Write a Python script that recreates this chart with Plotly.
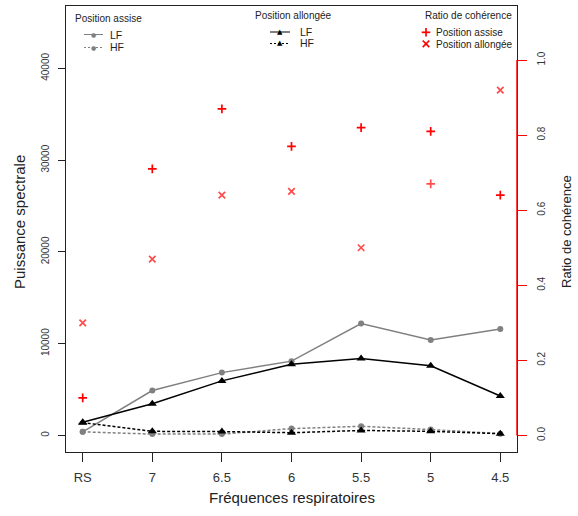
import plotly.graph_objects as go

# ---- data ----
categories = ["RS", "7", "6.5", "6", "5.5", "5", "4.5"]
lf_assise = [400, 4900, 6850, 8100, 12200, 10400, 11600]
hf_assise = [400, 150, 150, 750, 1000, 650, 200]
lf_allongee = [1450, 3450, 5950, 7750, 8400, 7600, 4300]
hf_allongee = [1400, 450, 430, 300, 550, 450, 200]
coh_assise = [0.10, 0.71, 0.87, 0.77, 0.82, 0.81, 0.64]
coh_allongee = [0.30, 0.47, 0.64, 0.65, 0.50, 0.67, 0.92]
left_ticks = [0, 10000, 20000, 30000, 40000]
right_ticks = [0.0, 0.2, 0.4, 0.6, 0.8, 1.0]

xpos = list(range(1, len(categories) + 1))
FONT = "Liberation Sans, Arial, sans-serif"
GRAY = "#808080"
RED = "#ff0000"
DOT = "3px,2px"

# symbols for the allongée coherence markers (the reference shows a '+' at 5)
allongee_symbols = ["x-thin", "x-thin", "x-thin", "x-thin", "x-thin", "cross-thin", "x-thin"]
allongee_sizes = [6.5, 6.5, 6.5, 6.5, 6.5, 6.2, 6.5]

# plot-area geometry (pixels) used to place the hand-made legends
W, H = 578, 516
PL, PR, PT, PB = 66, 517, 6, 452


def px(x):
    return (x - PL) / (PR - PL)


def py(y):
    return (PB - y) / (PB - PT)


fig = go.Figure()

fig.add_trace(go.Scatter(x=xpos, y=lf_assise, mode="lines+markers", name="LF assise",
                         line=dict(color=GRAY, width=1.5),
                         marker=dict(symbol="circle", size=6, color=GRAY)))
fig.add_trace(go.Scatter(x=xpos, y=hf_assise, mode="lines+markers", name="HF assise",
                         line=dict(color=GRAY, width=1.5, dash=DOT),
                         marker=dict(symbol="circle", size=6, color=GRAY)))
fig.add_trace(go.Scatter(x=xpos, y=lf_allongee, mode="lines+markers", name="LF allongée",
                         line=dict(color="black", width=1.5),
                         marker=dict(symbol="triangle-up", size=8, color="black")))
fig.add_trace(go.Scatter(x=xpos, y=hf_allongee, mode="lines+markers", name="HF allongée",
                         line=dict(color="black", width=1.5, dash=DOT),
                         marker=dict(symbol="triangle-up", size=8, color="black")))
fig.add_trace(go.Scatter(x=xpos, y=coh_assise, mode="markers", name="Position assise",
                         yaxis="y2",
                         marker=dict(symbol="cross-thin", size=6.2, color=RED,
                                     line=dict(color=RED, width=1.7))))
fig.add_trace(go.Scatter(x=xpos, y=coh_allongee, mode="markers", name="Position allongée",
                         yaxis="y2",
                         marker=dict(symbol=allongee_symbols, size=allongee_sizes, color=RED,
                                     line=dict(color=RED, width=1.7))))

annotations = []
shapes = []


def txt(text, x, y, size=10.5, color="#222", xanchor="left", family=FONT, angle=0):
    annotations.append(dict(text=text,
                            xref="paper", yref="paper", x=px(x), y=py(y),
                            xanchor=xanchor, yanchor="middle", showarrow=False,
                            textangle=angle,
                            font=dict(family=family, size=size, color=color)))


def seg(x0, x1, y0, y1, color, dash=None, width=1.0):
    shapes.append(dict(type="line", xref="paper", yref="paper",
                       x0=px(x0), x1=px(x1), y0=py(y0), y1=py(y1),
                       line=dict(color=color, width=width, dash=dash or "solid")))


# legend 1 : Position assise
txt("Position assise", 72.5, 19, size=10)
seg(84, 103, 34.5, 34.5, GRAY)
txt("●", 93.5, 34.5, size=6, color=GRAY, xanchor="center", family="DejaVu Sans")
txt("LF", 107.5, 34.5)
seg(84, 103, 47.5, 47.5, GRAY, "2px,2px")
txt("●", 93.5, 47.5, size=6, color=GRAY, xanchor="center", family="DejaVu Sans")
txt("HF", 107.5, 47.5)

# legend 2 : Position allongée
txt("Position allongée", 253, 16, size=10)
seg(270, 290, 32, 32, "black")
txt("▲", 280, 31.5, size=7, color="black", xanchor="center", family="DejaVu Sans")
txt("LF", 298, 32)
seg(270, 290, 43.5, 43.5, "black", "2px,2px")
txt("▲", 280, 43, size=7, color="black", xanchor="center", family="DejaVu Sans")
txt("HF", 298, 43.5)

# legend 3 : Ratio de cohérence (symbols drawn as small strokes)
txt("Ratio de cohérence", 422.5, 16, size=10)
seg(421.7, 430.3, 32.3, 32.3, RED, width=1.7)
seg(426, 426, 28, 36.6, RED, width=1.7)
txt("Position assise", 434, 32.5, size=10)
seg(422.7, 429.3, 40.5, 47.1, RED, width=1.7)
seg(422.7, 429.3, 47.1, 40.5, RED, width=1.7)
txt("Position allongée", 434, 44, size=10)

# axis titles
txt("Puissance spectrale", 20, 222, size=15, xanchor="center", angle=-90)
txt("Ratio de cohérence", 566, 232, size=13, xanchor="center", angle=-90)
txt("Fréquences respiratoires", 291.5, 497, size=15, xanchor="center")

# red right-axis line from 0 to 1
shapes.append(dict(type="line", xref="paper", x0=1, x1=1, yref="y2", y0=0, y1=1,
                   line=dict(color=RED, width=1.5)))

fig.update_layout(
    width=W, height=H,
    margin=dict(l=PL, r=W - PR, t=PT, b=H - PB, autoexpand=False),
    paper_bgcolor="white", plot_bgcolor="white",
    font=dict(family=FONT, color="#333"),
    showlegend=False,
    xaxis=dict(range=[0.76, 7.24], tickvals=xpos, ticktext=categories,
               ticks="outside", ticklen=9, tickcolor="#222", tickwidth=1,
               showline=True, linecolor="#222", linewidth=1, mirror=True,
               showgrid=False, zeroline=False, automargin=False,
               ticklabelstandoff=4,
               tickfont=dict(size=13, color="#333")),
    yaxis=dict(range=[-1800, 46800], tickvals=left_ticks, tickformat="d",
               ticks="outside", ticklen=7, tickcolor="#222", tickwidth=1,
               showline=True, linecolor="#222", linewidth=1, mirror=True,
               showgrid=False, zeroline=False, tickangle=-90, automargin=False,
               ticklabelstandoff=5,
               tickfont=dict(size=10, color="#333")),
    yaxis2=dict(range=[-0.044, 1.144], tickvals=right_ticks, tickformat=".1f",
                overlaying="y", side="right",
                ticks="outside", ticklen=9, tickcolor=RED, tickwidth=1,
                showline=False, showgrid=False, zeroline=False, tickangle=-90,
                automargin=False, ticklabelstandoff=6,
                tickfont=dict(size=10, color="#333")),
    annotations=annotations,
    shapes=shapes,
)

fig.write_html("out.html", config={"displayModeBar": False},
               post_script="document.body.style.margin='0';")
